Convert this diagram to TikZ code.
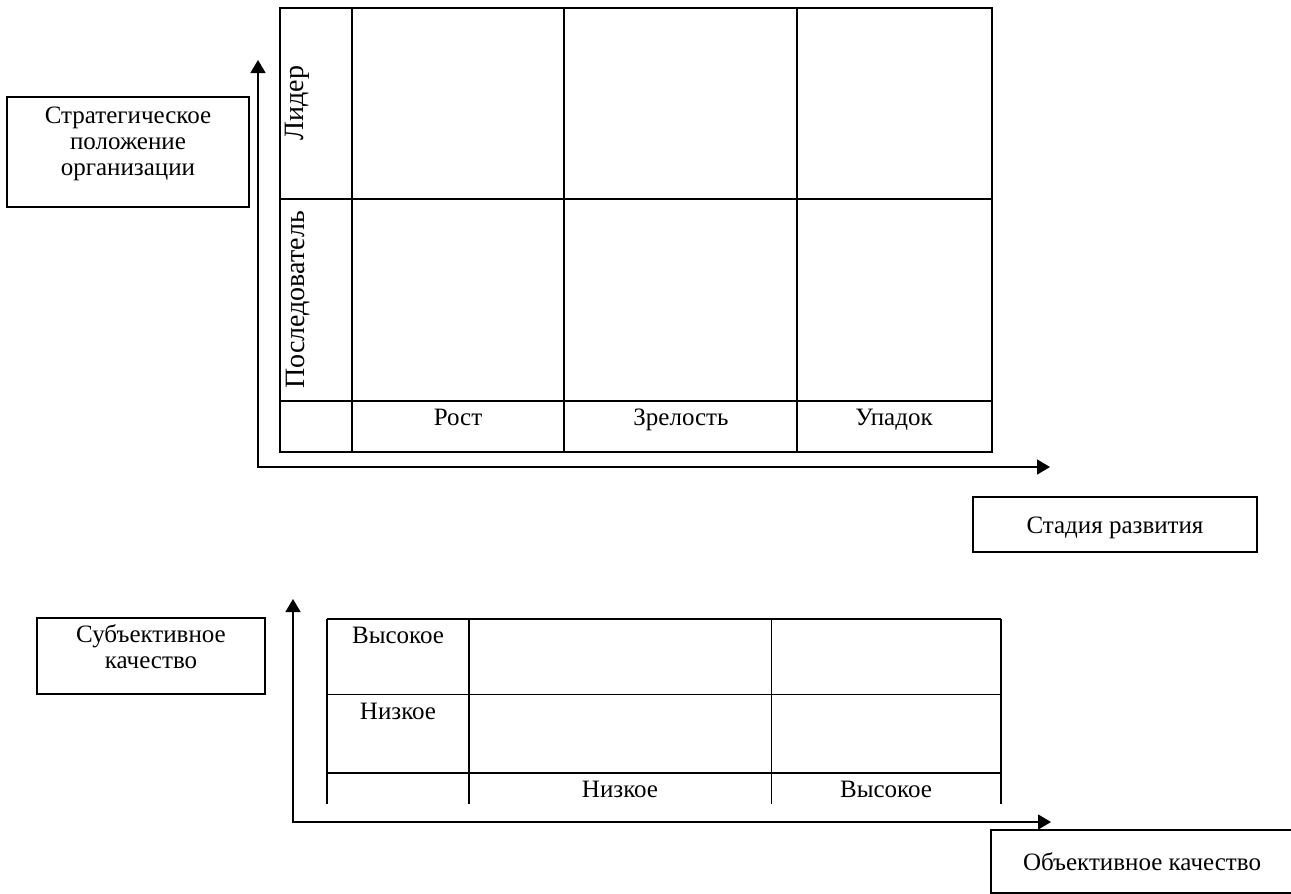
\documentclass[tikz,border=0pt]{standalone}
\usepackage{fontspec}
\setmainfont{Liberation Serif}
\usetikzlibrary{arrows.meta,positioning}

\begin{document}
\begin{tikzpicture}[x=0.5pt,y=-0.5pt]
  \tikzset{cell/.style={line width=1pt}}
  \tikzset{bold cell/.style={line width=0.85pt}}
  \tikzset{thin cell/.style={line width=0.4pt}}
  \tikzset{axis/.style={{Triangle[length=6.5pt,width=7.5pt]}-{Triangle[length=6.5pt,width=7.5pt]},line width=0.75pt}}
  \tikzset{axisbox/.style={draw,line width=0.65pt,inner sep=0pt}}
  \tikzset{txt/.style={font=\fontsize{12.5}{13}\selectfont,inner sep=1pt,align=center,anchor=base}}
  \tikzset{side/.style={font=\fontsize{14}{15}\selectfont,inner sep=1pt,rotate=90}}
  \clip (0,0) rectangle (1291,894);

  \draw[cell] (280,8) rectangle (992,452);
  \foreach \c in {352,564,797} \draw[cell] (\c,8) -- (\c,452);
  \foreach \r in {199,401} \draw[cell] (280,\r) -- (992,\r);

  \node[side] (leader) at (297,103) {Лидер};
  \node[side] (follower) at (298,300) {Последователь};
  \node[txt] (growth) at (458,425) {Рост};
  \node[txt] (maturity) at (681,425) {Зрелость};
  \node[txt] (decline) at (894,425) {Упадок};

  \coordinate (top1) at (258,60);
  \coordinate (right1) at (1050,467);
  \draw[axis] (top1) |- (right1);

  \node[axisbox,minimum width=121pt,minimum height=55pt] (stratbox) at (128,152) {};
  \node[txt] (strat) at (128,175) {Стратегическое\\положение\\организации};
  \node[axisbox,minimum width=142pt,minimum height=27.5pt] (stagebox) at (1115,524.5) {};
  \node[txt] (stage) at (1115,533) {Стадия развития};

  \draw[bold cell] (327,619) -- (1001,619);
  \draw[bold cell] (327,773) -- (1001,773);
  \draw[thin cell] (327,694) -- (1001,694);
  \foreach \c in {327,469,1001} \draw[bold cell] (\c,619) -- (\c,804);
  \draw[thin cell] (771,619) -- (771,804);

  \node[txt] (subhigh) at (398,643) {Высокое};
  \node[txt] (sublow) at (398,719) {Низкое};
  \node[txt] (objlow) at (620,797) {Низкое};
  \node[txt] (objhigh) at (886,797) {Высокое};

  \coordinate (top2) at (293,599);
  \coordinate (right2) at (1051,822);
  \draw[axis] (top2) |- (right2);

  \node[axisbox,minimum width=114pt,minimum height=38pt] (subbox) at (151,656) {};
  \node[txt] (subj) at (151,668) {Субъективное\\качество};
  \node[axisbox,minimum width=151pt,minimum height=31.5pt] (objbox) at (1142,861.5) {};
  \node[txt] (obj) at (1142,870) {Объективное качество};
\end{tikzpicture}
\end{document}
